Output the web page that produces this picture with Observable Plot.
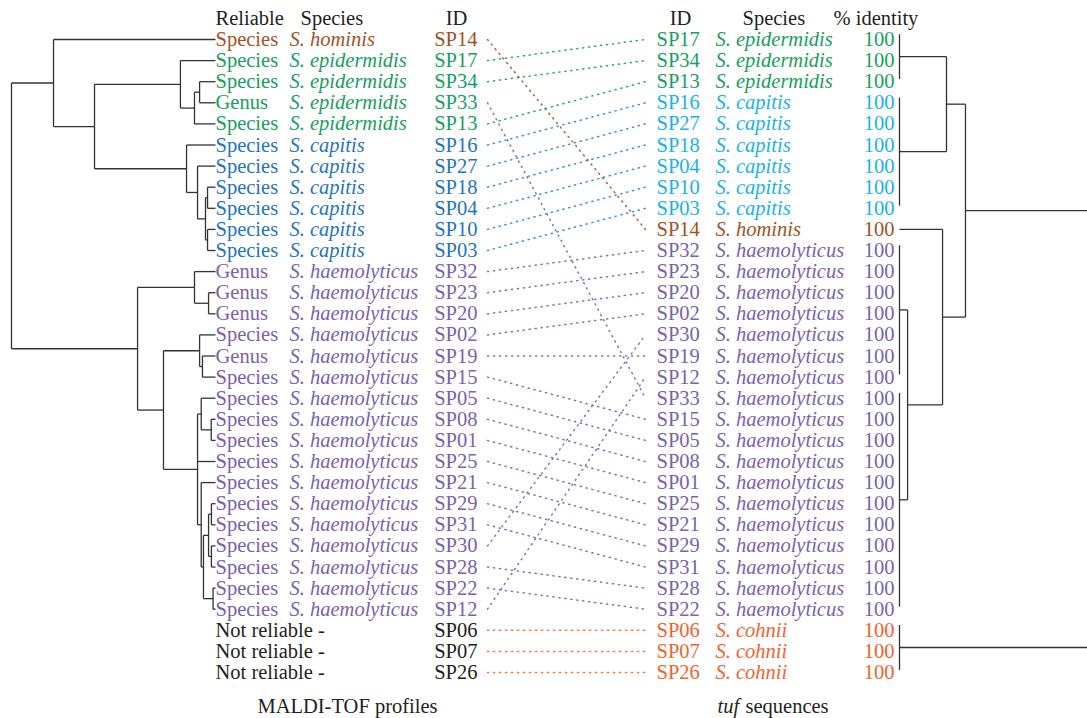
<!DOCTYPE html>
<html>
<head>
<meta charset="utf-8">
<script src="https://cdn.jsdelivr.net/npm/d3@7"></script>
<script src="https://cdn.jsdelivr.net/npm/@observablehq/plot@0.6"></script>
<style>
  body { margin: 0; background: #fff; }
</style>
</head>
<body>
<div id="chart"></div>
<script>
// ---------------- DATA ----------------
const leftIds = ["SP14","SP17","SP34","SP33","SP13","SP16","SP27","SP18","SP04","SP10","SP03",
  "SP32","SP23","SP20","SP02","SP19","SP15","SP05","SP08","SP01","SP25","SP21","SP29","SP31",
  "SP30","SP28","SP22","SP12","SP06","SP07","SP26"];
const leftReliable = ["Species","Species","Species","Genus","Species","Species","Species","Species",
  "Species","Species","Species","Genus","Genus","Genus","Species","Genus","Species","Species",
  "Species","Species","Species","Species","Species","Species","Species","Species","Species",
  "Species","Not reliable -","Not reliable -","Not reliable -"];
const leftSpecies = ["S. hominis","S. epidermidis","S. epidermidis","S. epidermidis","S. epidermidis",
  "S. capitis","S. capitis","S. capitis","S. capitis","S. capitis","S. capitis",
  "S. haemolyticus","S. haemolyticus","S. haemolyticus","S. haemolyticus","S. haemolyticus",
  "S. haemolyticus","S. haemolyticus","S. haemolyticus","S. haemolyticus","S. haemolyticus",
  "S. haemolyticus","S. haemolyticus","S. haemolyticus","S. haemolyticus","S. haemolyticus",
  "S. haemolyticus","S. haemolyticus","","",""];

const rightIds = ["SP17","SP34","SP13","SP16","SP27","SP18","SP04","SP10","SP03","SP14",
  "SP32","SP23","SP20","SP02","SP30","SP19","SP12","SP33","SP15","SP05","SP08","SP01","SP25",
  "SP21","SP29","SP31","SP28","SP22","SP06","SP07","SP26"];
const rightSpecies = ["S. epidermidis","S. epidermidis","S. epidermidis",
  "S. capitis","S. capitis","S. capitis","S. capitis","S. capitis","S. capitis","S. hominis",
  "S. haemolyticus","S. haemolyticus","S. haemolyticus","S. haemolyticus","S. haemolyticus",
  "S. haemolyticus","S. haemolyticus","S. haemolyticus","S. haemolyticus","S. haemolyticus",
  "S. haemolyticus","S. haemolyticus","S. haemolyticus","S. haemolyticus","S. haemolyticus",
  "S. haemolyticus","S. haemolyticus","S. haemolyticus","S. cohnii","S. cohnii","S. cohnii"];
const rightIdentity = [100,100,100,100,100,100,100,100,100,100,100,100,100,100,100,100,
  100,100,100,100,100,100,100,100,100,100,100,100,100,100,100];

// Dendrograms: [height, children...]; leaves are isolate IDs
const leftTree = [1.0,
  [0.794, "SP14",
    [0.593,
      [0.172, "SP17", [0.103, [0.078, "SP34", "SP33"], "SP13"]],
      [0.142, "SP16", [0.088, "SP27", [0.049, [0.039, "SP18", "SP04"], [0.039, "SP10", "SP03"]]]]]],
  [0.382,
    [0.103, "SP32", [0.034, "SP23", "SP20"]],
    [0.255,
      [0.078, "SP02", [0.064, "SP19", "SP15"]],
      [0.088,
        [0.07, "SP05", [0.021, "SP08", "SP01"]],
        "SP25",
        [0.07, "SP21", [0.059, [0.034, [0.02, "SP29", "SP31"], [0.02, "SP30", "SP28"]], [0.012, "SP22", "SP12"]]]]]]];

const rightTree = [1.02,
  [0.351,
    [0.25, [0, "SP17","SP34","SP13"], [0, "SP16","SP27","SP18","SP04","SP10","SP03"]],
    [0.229, "SP14",
      [0.043, [0, "SP32","SP23","SP20","SP02","SP30","SP19","SP12"],
              [0, "SP33","SP15","SP05","SP08","SP01","SP25","SP21","SP29","SP31","SP28","SP22"]]]],
  [0, "SP06","SP07","SP26"]];

const headersLeft = ["Reliable", "Species", "ID"];
const headersRight = ["ID", "Species", "% identity"];
const captions = ["MALDI-TOF profiles", "tuf", "sequences"];

// ---------------- STYLE / LAYOUT ----------------
const leftColor = {"S. hominis":"#a0531f","S. epidermidis":"#17a05d","S. capitis":"#1f75bd",
  "S. haemolyticus":"#7a62ad","":"#231f20"};
const rightColor = {"S. hominis":"#a0531f","S. epidermidis":"#17a05d","S. capitis":"#18b2ea",
  "S. haemolyticus":"#7a62ad","S. cohnii":"#f2622e"};
const linkColor = {"S. hominis":"#a0531f","S. epidermidis":"#17a05d","S. capitis":"#2a86cf",
  "S. haemolyticus":"#7a62ad","S. cohnii":"#f2622e"};
const ink = "#231f20";
const treeInk = "#333333";
const FS = 20.5;
const col = {
  lTreeRoot: 11, lTreeLeaf: 215, lRel: 215, lSpec: 289, lId: 477, linkL: 487,
  linkR: 645, rId: 656, rSpec: 715, rIdent: 894, rTreeLeaf: 899, rTreeSpan: 188,
  hRel: 215, hSpec: 300, hIdL: 456, hIdR: 680, hSpecR: 742, hIdent: 833,
  capL: 347, tuf: 717, seq: 745
};
const headerRow = -1, captionRow = 31.6;

// ---------------- BUILD ----------------
const leftRows = leftIds.map((id, i) => ({row: i, id, rel: leftReliable[i], sp: leftSpecies[i],
  color: leftColor[leftSpecies[i]]}));
const rightRows = rightIds.map((id, i) => ({row: i, id, sp: rightSpecies[i], ident: rightIdentity[i],
  color: rightColor[rightSpecies[i]]}));
const leftRowOf = new Map(leftIds.map((d, i) => [d, i]));
const rightRowOf = new Map(rightIds.map((d, i) => [d, i]));

function layoutTree(tree, rowOf, xOf, barPad) {
  const segs = [];
  function walk(node) {
    if (typeof node === "string") return {x: xOf(0), y: rowOf.get(node)};
    const [h, ...kids] = node;
    const k = kids.map(walk);
    const x = xOf(h);
    let y0 = k[0].y, y1 = k[k.length - 1].y;
    if (h === 0 && barPad) { y0 += barPad[0]; y1 += barPad[1]; }
    segs.push({x1: x, x2: x, y1: y0, y2: y1});
    for (const c of k) if (c.x !== x) segs.push({x1: c.x, x2: x, y1: c.y, y2: c.y});
    return {x, y: (y0 + y1) / 2};
  }
  walk(tree);
  return segs;
}
const xLeft = h => col.lTreeLeaf - h * (col.lTreeLeaf - col.lTreeRoot);
const xRight = h => col.rTreeLeaf + h * col.rTreeSpan;
const leftSegs = layoutTree(leftTree, leftRowOf, xLeft, null);
const rightSegs = layoutTree(rightTree, rightRowOf, xRight, [-0.25, -0.12]);

const links = leftIds.map(id => ({id, y1: leftRowOf.get(id), y2: rightRowOf.get(id),
  color: linkColor[rightSpecies[rightRowOf.get(id)]]}));

const headers = [
  {text: headersLeft[0], x: col.hRel, anchor: "start"},
  {text: headersLeft[1], x: col.hSpec, anchor: "start"},
  {text: headersLeft[2], x: col.hIdL, anchor: "middle"},
  {text: headersRight[0], x: col.hIdR, anchor: "middle"},
  {text: headersRight[1], x: col.hSpecR, anchor: "start"},
  {text: headersRight[2], x: col.hIdent, anchor: "start"}
];

const txt = {fontSize: FS, lineAnchor: "middle"};

const chart = Plot.plot({
  width: 1087, height: 718,
  marginTop: 0, marginBottom: 0, marginLeft: 0, marginRight: 0,
  x: {domain: [0, 1087], range: [0, 1087], axis: null},
  y: {domain: [0, 30], range: [39, 672], axis: null},
  color: {type: "identity"},
  style: {fontFamily: "'Liberation Serif', 'Times New Roman', serif", background: "#fff", overflow: "visible"},
  marks: [
    // connecting dotted lines
    Plot.link(links, {x1: () => col.linkL, x2: () => col.linkR, y1: "y1", y2: "y2",
      stroke: "color", strokeWidth: 1.5, strokeDasharray: "1.2,4.8", strokeLinecap: "round", strokeOpacity: 0.9}),
    // dendrograms
    Plot.link(leftSegs, {x1: "x1", x2: "x2", y1: "y1", y2: "y2", stroke: treeInk, strokeWidth: 1.3}),
    Plot.link(rightSegs, {x1: "x1", x2: "x2", y1: "y1", y2: "y2", stroke: treeInk, strokeWidth: 1.3}),
    // left columns
    Plot.text(leftRows, {...txt, x: () => col.lRel, y: "row", text: "rel", textAnchor: "start",
      fill: d => d.sp === "" ? ink : d.color}),
    Plot.text(leftRows, {...txt, x: () => col.lSpec, y: "row", text: "sp", textAnchor: "start",
      fill: "color", fontStyle: "italic"}),
    Plot.text(leftRows, {...txt, x: () => col.lId, y: "row", text: "id", textAnchor: "end", fill: "color"}),
    // right columns
    Plot.text(rightRows, {...txt, x: () => col.rId, y: "row", text: "id", textAnchor: "start", fill: "color"}),
    Plot.text(rightRows, {...txt, x: () => col.rSpec, y: "row", text: "sp", textAnchor: "start",
      fill: "color", fontStyle: "italic"}),
    Plot.text(rightRows, {...txt, x: () => col.rIdent, y: "row", text: d => String(d.ident),
      textAnchor: "end", fill: "color"}),
    // headers
    Plot.text(headers.filter(d => d.anchor === "start"), {...txt, x: "x", y: () => headerRow,
      text: "text", textAnchor: "start", fill: ink}),
    Plot.text(headers.filter(d => d.anchor === "middle"), {...txt, x: "x", y: () => headerRow,
      text: "text", textAnchor: "middle", fill: ink}),
    // captions
    Plot.text([captions[0]], {...txt, x: () => col.capL, y: () => captionRow, text: d => d,
      textAnchor: "middle", fill: ink}),
    Plot.text([captions[1]], {...txt, x: () => col.tuf, y: () => captionRow, text: d => d,
      textAnchor: "start", fill: ink, fontStyle: "italic"}),
    Plot.text([captions[2]], {...txt, x: () => col.seq, y: () => captionRow, text: d => d,
      textAnchor: "start", fill: ink})
  ]
});
document.getElementById("chart").appendChild(chart);
</script>
</body>
</html>
